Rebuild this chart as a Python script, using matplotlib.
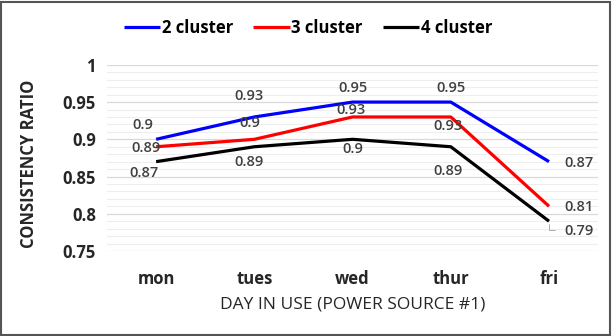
import matplotlib
matplotlib.use("Agg")
import matplotlib.pyplot as plt
from matplotlib.patches import Rectangle
import numpy as np

# dados
days = ["mon", "tues", "wed", "thur", "fri"]
cluster2 = [0.90, 0.93, 0.95, 0.95, 0.87]
cluster3 = [0.89, 0.90, 0.93, 0.93, 0.81]
cluster4 = [0.87, 0.89, 0.90, 0.89, 0.79]
series_names = ["2 cluster", "3 cluster", "4 cluster"]

colors = ["#0000ff", "#ff0000", "#000000"]
# deslocamento dos rótulos (pixels)
offsets = [
    [(-13, 14), (-5, 21), (0, 14), (0, 14), (30, -1)],
    [(-10, -1), (-5, 16), (-2, 7), (-3, -9), (30, -1)],
    [(-12, -11), (-5, -15), (0, -10), (-3, -24), (30, -10)],
]

plt.rcParams["font.family"] = ["Open Sans", "DejaVu Sans"]

fig = plt.figure(figsize=(6.16, 3.36), dpi=100)
ax = fig.add_axes([0.1737, 0.253, 0.7973, 0.554])

x = np.arange(len(days))
for vals, name, col, offs in zip([cluster2, cluster3, cluster4], series_names, colors, offsets):
    ax.plot(x, vals, color=col, lw=2.3, label=name, solid_capstyle="butt")
    for xi, v, off in zip(x, vals, offs):
        ax.annotate(f"{v:g}", (xi, v), xytext=off, textcoords="offset pixels",
                    ha="center", va="center", fontsize=10.5, color="#404040",
                    fontweight="semibold")

# linha guia do rótulo 0.79
ax.annotate("", (4, cluster4[4]), xytext=(9, -9), textcoords="offset pixels",
            arrowprops=dict(arrowstyle="-", color="#a0a0a0", lw=0.6,
                            connectionstyle="angle,angleA=0,angleB=90"))

ax.set_xlim(-0.5, 4.5)
ax.set_ylim(0.75, 1.0)
ax.set_yticks([0.75, 0.8, 0.85, 0.9, 0.95, 1.0])
ax.set_yticklabels(["0.75", "0.8", "0.85", "0.9", "0.95", "1"])
ax.set_yticks(np.arange(0.75, 1.001, 0.01), minor=True)
ax.set_xticks(x)
ax.set_xticklabels(days)
ax.grid(axis="y", which="major", color="#d9d9d9", lw=0.9)
ax.grid(axis="y", which="minor", color="#eeeeee", lw=0.8)
ax.set_axisbelow(True)
for s in ax.spines.values():
    s.set_visible(False)
ax.tick_params(axis="both", which="both", length=0)
ax.tick_params(axis="y", labelsize=12, pad=8)
ax.tick_params(axis="x", labelsize=12, pad=14)
for t in ax.get_xticklabels() + ax.get_yticklabels():
    t.set_fontweight("bold")
    t.set_color("#262626")

ax.set_ylabel("CONSISTENCY RATIO", fontsize=12, fontweight="bold", color="#262626")
ax.yaxis.set_label_coords(-0.14, 0.47)
ax.set_xlabel("DAY IN USE (POWER SOURCE #1)", fontsize=12.5, color="#262626", labelpad=6)

fig.legend(loc="center", bbox_to_anchor=(0.5, 0.917), ncol=3, frameon=False,
           handlelength=2.2, handletextpad=0.1, columnspacing=1.2,
           prop={"size": 12, "weight": "bold"})

# moldura da figura
fig.patches.append(Rectangle((0.002, 0.004), 0.988, 0.99, transform=fig.transFigure,
                             fill=False, edgecolor="#555555", lw=1.5))

fig.savefig("out.png", dpi=100)
